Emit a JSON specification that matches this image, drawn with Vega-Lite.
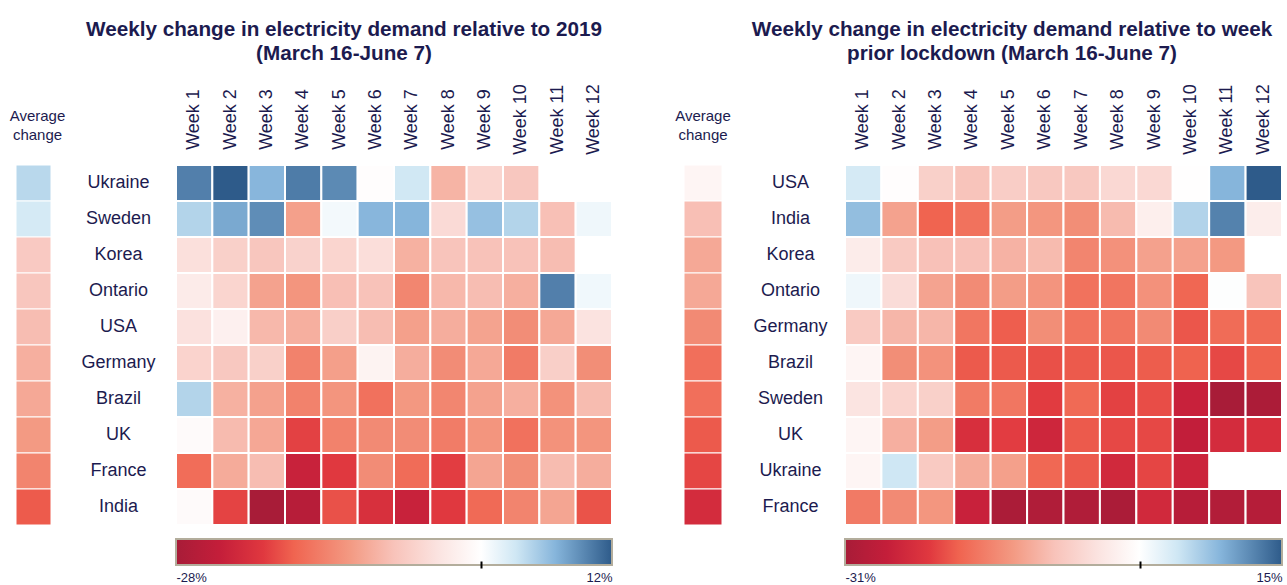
{
  "$schema": "https://vega.github.io/schema/vega-lite/v6.json",
  "autosize": {"type": "pad"},
  "padding": {"left": 9, "top": 18, "right": 2, "bottom": 2},
  "background": "white",
  "config": {
    "view": {"stroke": null},
    "font": "Liberation Sans",
    "title": {"color": "#1c1b4f", "font": "Liberation Sans"},
    "axis": {"labelFont": "Liberation Sans", "labelColor": "#1c1b4f"}
  },
  "datasets": {
    "L": [
      {"c":"Ukraine","w":"Week 1","v":9.9},{"c":"Ukraine","w":"Week 2","v":12},{"c":"Ukraine","w":"Week 3","v":6.7},{"c":"Ukraine","w":"Week 4","v":10.1},{"c":"Ukraine","w":"Week 5","v":9.3},{"c":"Ukraine","w":"Week 6","v":-0.3},{"c":"Ukraine","w":"Week 7","v":3.1},{"c":"Ukraine","w":"Week 8","v":-9.5},{"c":"Ukraine","w":"Week 9","v":-5.75},{"c":"Ukraine","w":"Week 10","v":-7.5},
      {"c":"Sweden","w":"Week 1","v":4.6},{"c":"Sweden","w":"Week 2","v":7.5},{"c":"Sweden","w":"Week 3","v":9.1},{"c":"Sweden","w":"Week 4","v":-11.4},{"c":"Sweden","w":"Week 5","v":0.8},{"c":"Sweden","w":"Week 6","v":6.7},{"c":"Sweden","w":"Week 7","v":6.8},{"c":"Sweden","w":"Week 8","v":-5.1},{"c":"Sweden","w":"Week 9","v":6.0},{"c":"Sweden","w":"Week 10","v":4.6},{"c":"Sweden","w":"Week 11","v":-8.3},{"c":"Sweden","w":"Week 12","v":1.1},
      {"c":"Korea","w":"Week 1","v":-4.4},{"c":"Korea","w":"Week 2","v":-6.4},{"c":"Korea","w":"Week 3","v":-7.6},{"c":"Korea","w":"Week 4","v":-6.1},{"c":"Korea","w":"Week 5","v":-5.75},{"c":"Korea","w":"Week 6","v":-4.6},{"c":"Korea","w":"Week 7","v":-9.8},{"c":"Korea","w":"Week 8","v":-7.9},{"c":"Korea","w":"Week 9","v":-8.1},{"c":"Korea","w":"Week 10","v":-8.1},{"c":"Korea","w":"Week 11","v":-8.6},
      {"c":"Ontario","w":"Week 1","v":-2.8},{"c":"Ontario","w":"Week 2","v":-5.75},{"c":"Ontario","w":"Week 3","v":-11.2},{"c":"Ontario","w":"Week 4","v":-12.5},{"c":"Ontario","w":"Week 5","v":-8.4},{"c":"Ontario","w":"Week 6","v":-8.1},{"c":"Ontario","w":"Week 7","v":-13.9},{"c":"Ontario","w":"Week 8","v":-9.1},{"c":"Ontario","w":"Week 9","v":-8.6},{"c":"Ontario","w":"Week 10","v":-10},{"c":"Ontario","w":"Week 11","v":9.9},{"c":"Ontario","w":"Week 12","v":1.0},
      {"c":"USA","w":"Week 1","v":-4.25},{"c":"USA","w":"Week 2","v":-2.1},{"c":"USA","w":"Week 3","v":-9.1},{"c":"USA","w":"Week 4","v":-10},{"c":"USA","w":"Week 5","v":-6.5},{"c":"USA","w":"Week 6","v":-8.6},{"c":"USA","w":"Week 7","v":-11.4},{"c":"USA","w":"Week 8","v":-10.1},{"c":"USA","w":"Week 9","v":-11.1},{"c":"USA","w":"Week 10","v":-13.25},{"c":"USA","w":"Week 11","v":-10.6},{"c":"USA","w":"Week 12","v":-4},
      {"c":"Germany","w":"Week 1","v":-6},{"c":"Germany","w":"Week 2","v":-7.4},{"c":"Germany","w":"Week 3","v":-6.4},{"c":"Germany","w":"Week 4","v":-14.3},{"c":"Germany","w":"Week 5","v":-11.5},{"c":"Germany","w":"Week 6","v":-1.7},{"c":"Germany","w":"Week 7","v":-10.1},{"c":"Germany","w":"Week 8","v":-13.35},{"c":"Germany","w":"Week 9","v":-10.6},{"c":"Germany","w":"Week 10","v":-15},{"c":"Germany","w":"Week 11","v":-6.5},{"c":"Germany","w":"Week 12","v":-13.2},
      {"c":"Brazil","w":"Week 1","v":4.6},{"c":"Brazil","w":"Week 2","v":-9.8},{"c":"Brazil","w":"Week 3","v":-11.3},{"c":"Brazil","w":"Week 4","v":-14.3},{"c":"Brazil","w":"Week 5","v":-12.5},{"c":"Brazil","w":"Week 6","v":-15.9},{"c":"Brazil","w":"Week 7","v":-12.2},{"c":"Brazil","w":"Week 8","v":-13.9},{"c":"Brazil","w":"Week 9","v":-11.2},{"c":"Brazil","w":"Week 10","v":-10},{"c":"Brazil","w":"Week 11","v":-12.8},{"c":"Brazil","w":"Week 12","v":-8.7},
      {"c":"UK","w":"Week 1","v":-0.7},{"c":"UK","w":"Week 2","v":-8.8},{"c":"UK","w":"Week 3","v":-10.7},{"c":"UK","w":"Week 4","v":-19.4},{"c":"UK","w":"Week 5","v":-14.3},{"c":"UK","w":"Week 6","v":-13.5},{"c":"UK","w":"Week 7","v":-13.35},{"c":"UK","w":"Week 8","v":-14.9},{"c":"UK","w":"Week 9","v":-12.5},{"c":"UK","w":"Week 10","v":-15.9},{"c":"UK","w":"Week 11","v":-12.8},{"c":"UK","w":"Week 12","v":-12.5},
      {"c":"France","w":"Week 1","v":-16.3},{"c":"France","w":"Week 2","v":-10.3},{"c":"France","w":"Week 3","v":-8.6},{"c":"France","w":"Week 4","v":-23.4},{"c":"France","w":"Week 5","v":-20},{"c":"France","w":"Week 6","v":-13.35},{"c":"France","w":"Week 7","v":-16.4},{"c":"France","w":"Week 8","v":-19.7},{"c":"France","w":"Week 9","v":-10.9},{"c":"France","w":"Week 10","v":-13.2},{"c":"France","w":"Week 11","v":-8.7},{"c":"France","w":"Week 12","v":-10.1},
      {"c":"India","w":"Week 1","v":-0.7},{"c":"India","w":"Week 2","v":-19.3},{"c":"India","w":"Week 3","v":-28},{"c":"India","w":"Week 4","v":-25.9},{"c":"India","w":"Week 5","v":-18.4},{"c":"India","w":"Week 6","v":-21.3},{"c":"India","w":"Week 7","v":-23.4},{"c":"India","w":"Week 8","v":-20},{"c":"India","w":"Week 9","v":-16.6},{"c":"India","w":"Week 10","v":-14.1},{"c":"India","w":"Week 11","v":-10.9},{"c":"India","w":"Week 12","v":-18.3}
    ],
    "LA": [
      {"c":"Ukraine","v":4.3},{"c":"Sweden","v":2.8},{"c":"Korea","v":-7.2},{"c":"Ontario","v":-7.6},{"c":"USA","v":-8.6},{"c":"Germany","v":-10},{"c":"Brazil","v":-10.6},{"c":"UK","v":-12},{"c":"France","v":-14.1},{"c":"India","v":-17.8}
    ],
    "LB": [{"lo": -28, "hi": 12}],
    "R": [
      {"c":"USA","w":"Week 1","v":3.5},{"c":"USA","w":"Week 2","v":-0.3},{"c":"USA","w":"Week 3","v":-7.1},{"c":"USA","w":"Week 4","v":-8.8},{"c":"USA","w":"Week 5","v":-7.5},{"c":"USA","w":"Week 6","v":-8.2},{"c":"USA","w":"Week 7","v":-8.2},{"c":"USA","w":"Week 8","v":-5.95},{"c":"USA","w":"Week 9","v":-5.95},{"c":"USA","w":"Week 10","v":-0.2},{"c":"USA","w":"Week 11","v":8.5},{"c":"USA","w":"Week 12","v":15},
      {"c":"India","w":"Week 1","v":7.7},{"c":"India","w":"Week 2","v":-12.4},{"c":"India","w":"Week 3","v":-19},{"c":"India","w":"Week 4","v":-17.5},{"c":"India","w":"Week 5","v":-13},{"c":"India","w":"Week 6","v":-13.7},{"c":"India","w":"Week 7","v":-14.6},{"c":"India","w":"Week 8","v":-9.8},{"c":"India","w":"Week 9","v":-2.5},{"c":"India","w":"Week 10","v":5.8},{"c":"India","w":"Week 11","v":12.2},{"c":"India","w":"Week 12","v":-2.8},
      {"c":"Korea","w":"Week 1","v":-3},{"c":"Korea","w":"Week 2","v":-7.9},{"c":"Korea","w":"Week 3","v":-9.1},{"c":"Korea","w":"Week 4","v":-9.1},{"c":"Korea","w":"Week 5","v":-10.7},{"c":"Korea","w":"Week 6","v":-9.8},{"c":"Korea","w":"Week 7","v":-15.5},{"c":"Korea","w":"Week 8","v":-14.25},{"c":"Korea","w":"Week 9","v":-12.5},{"c":"Korea","w":"Week 10","v":-12.5},{"c":"Korea","w":"Week 11","v":-13.4},
      {"c":"Ontario","w":"Week 1","v":1.3},{"c":"Ontario","w":"Week 2","v":-5.4},{"c":"Ontario","w":"Week 3","v":-12.3},{"c":"Ontario","w":"Week 4","v":-14.9},{"c":"Ontario","w":"Week 5","v":-13},{"c":"Ontario","w":"Week 6","v":-13.9},{"c":"Ontario","w":"Week 7","v":-17.5},{"c":"Ontario","w":"Week 8","v":-17.2},{"c":"Ontario","w":"Week 9","v":-14.25},{"c":"Ontario","w":"Week 10","v":-18.7},{"c":"Ontario","w":"Week 11","v":0.2},{"c":"Ontario","w":"Week 12","v":-8.8},
      {"c":"Germany","w":"Week 1","v":-7.9},{"c":"Germany","w":"Week 2","v":-10.3},{"c":"Germany","w":"Week 3","v":-10.3},{"c":"Germany","w":"Week 4","v":-17.1},{"c":"Germany","w":"Week 5","v":-19.4},{"c":"Germany","w":"Week 6","v":-14.6},{"c":"Germany","w":"Week 7","v":-17.4},{"c":"Germany","w":"Week 8","v":-17.2},{"c":"Germany","w":"Week 9","v":-15},{"c":"Germany","w":"Week 10","v":-20},{"c":"Germany","w":"Week 11","v":-18.2},{"c":"Germany","w":"Week 12","v":-18.4},
      {"c":"Brazil","w":"Week 1","v":-1.6},{"c":"Brazil","w":"Week 2","v":-14.6},{"c":"Brazil","w":"Week 3","v":-14.1},{"c":"Brazil","w":"Week 4","v":-19.7},{"c":"Brazil","w":"Week 5","v":-19.7},{"c":"Brazil","w":"Week 6","v":-20.4},{"c":"Brazil","w":"Week 7","v":-19.7},{"c":"Brazil","w":"Week 8","v":-20},{"c":"Brazil","w":"Week 9","v":-19.5},{"c":"Brazil","w":"Week 10","v":-19.1},{"c":"Brazil","w":"Week 11","v":-21},{"c":"Brazil","w":"Week 12","v":-19.1},
      {"c":"Sweden","w":"Week 1","v":-4.3},{"c":"Sweden","w":"Week 2","v":-6.5},{"c":"Sweden","w":"Week 3","v":-7.1},{"c":"Sweden","w":"Week 4","v":-16.6},{"c":"Sweden","w":"Week 5","v":-17.1},{"c":"Sweden","w":"Week 6","v":-21.9},{"c":"Sweden","w":"Week 7","v":-18.4},{"c":"Sweden","w":"Week 8","v":-21.5},{"c":"Sweden","w":"Week 9","v":-20.6},{"c":"Sweden","w":"Week 10","v":-26},{"c":"Sweden","w":"Week 11","v":-31},{"c":"Sweden","w":"Week 12","v":-30.4},
      {"c":"UK","w":"Week 1","v":-1.6},{"c":"UK","w":"Week 2","v":-11},{"c":"UK","w":"Week 3","v":-13},{"c":"UK","w":"Week 4","v":-23.6},{"c":"UK","w":"Week 5","v":-21.8},{"c":"UK","w":"Week 6","v":-25.2},{"c":"UK","w":"Week 7","v":-19.7},{"c":"UK","w":"Week 8","v":-21},{"c":"UK","w":"Week 9","v":-21},{"c":"UK","w":"Week 10","v":-26.9},{"c":"UK","w":"Week 11","v":-24.2},{"c":"UK","w":"Week 12","v":-23.6},
      {"c":"Ukraine","w":"Week 1","v":-1.6},{"c":"Ukraine","w":"Week 2","v":4},{"c":"Ukraine","w":"Week 3","v":-7.9},{"c":"Ukraine","w":"Week 4","v":-11.5},{"c":"Ukraine","w":"Week 5","v":-12.7},{"c":"Ukraine","w":"Week 6","v":-18.6},{"c":"Ukraine","w":"Week 7","v":-19.7},{"c":"Ukraine","w":"Week 8","v":-24.7},{"c":"Ukraine","w":"Week 9","v":-21.2},{"c":"Ukraine","w":"Week 10","v":-25.5},
      {"c":"France","w":"Week 1","v":-16.7},{"c":"France","w":"Week 2","v":-15},{"c":"France","w":"Week 3","v":-13.7},{"c":"France","w":"Week 4","v":-26},{"c":"France","w":"Week 5","v":-30.5},{"c":"France","w":"Week 6","v":-29.7},{"c":"France","w":"Week 7","v":-29.7},{"c":"France","w":"Week 8","v":-30.5},{"c":"France","w":"Week 9","v":-24.7},{"c":"France","w":"Week 10","v":-28.6},{"c":"France","w":"Week 11","v":-29.5},{"c":"France","w":"Week 12","v":-28.9}
    ],
    "RA": [
      {"c":"USA","v":-1.6},{"c":"India","v":-9.3},{"c":"Korea","v":-11.8},{"c":"Ontario","v":-11.8},{"c":"Germany","v":-15},{"c":"Brazil","v":-17.8},{"c":"Sweden","v":-17.8},{"c":"UK","v":-19.7},{"c":"Ukraine","v":-21.1},{"c":"France","v":-24.2}
    ],
    "RB": [{"lo": -31, "hi": 15}]
  },
  "columns": 2,
  "spacing": {"row": 14, "column": 72},
  "bounds": "flush",
  "align": "each",
  "resolve": {"scale": {"color": "independent", "x": "independent", "y": "independent"}},
  "concat": [
    {
      "width": 596,
      "height": 360,
      "title": {"text": ["Weekly change in electricity demand relative to 2019", "(March 16-June 7)"], "fontSize": 20.7, "fontWeight": "bold", "anchor": "middle", "frame": "group", "dx": 30, "offset": 19, "lineHeight": 24},
      "resolve": {"scale": {"x": "independent"}},
      "layer": [
        {
          "data": {"name": "LA"},
          "mark": {"type": "rect", "stroke": "white", "strokeWidth": 1},
          "encoding": {
            "x": {"datum": "Average change", "type": "nominal", "scale": {"domain": ["Average change"], "range": [0, 35], "paddingInner": 0, "paddingOuter": 0},
              "axis": {"orient": "top", "labelExpr": "split(datum.label, ' ')", "labelFontSize": 15, "labelLineHeight": 19, "labelPadding": 42, "labelOffset": 4, "labelAngle": 0, "labelAlign": "center", "labelBaseline": "bottom", "ticks": false, "domain": false, "title": null}},
            "y": {"field": "c", "type": "nominal", "scale": {"domain": ["Ukraine","Sweden","Korea","Ontario","USA","Germany","Brazil","UK","France","India"]},
              "axis": {"offset": -160, "labelAlign": "center", "labelBaseline": "middle", "labelPadding": 58, "ticks": false, "domain": false, "title": null, "labelFontSize": 18}},
            "color": {"field": "v", "type": "quantitative", "legend": null,
              "scale": {"type": "linear", "interpolate": "rgb", "domain": [-28,-24,-20,-17.2,-12,-8,-4,0,3.2,6.8,12], "range": ["#a81c38","#c41e3a","#e0383f","#f06450","#f39a83","#f8c3ba","#fbe3e0","#ffffff","#cfe7f4","#86b5db","#2e5b8a"]}}
          }
        },
        {
          "data": {"name": "L"},
          "mark": {"type": "rect", "stroke": "white", "strokeWidth": 2},
          "encoding": {
            "x": {"field": "w", "type": "ordinal", "scale": {"domain": ["Week 1","Week 2","Week 3","Week 4","Week 5","Week 6","Week 7","Week 8","Week 9","Week 10","Week 11","Week 12"], "range": [160, 596], "paddingInner": 0, "paddingOuter": 0},
              "axis": {"orient": "top", "labelAngle": -90, "labelAlign": "center", "labelBaseline": "middle", "labelPadding": 46, "ticks": false, "domain": false, "title": null, "labelFontSize": 18}},
            "y": {"field": "c", "type": "nominal", "scale": {"domain": ["Ukraine","Sweden","Korea","Ontario","USA","Germany","Brazil","UK","France","India"]},
              "axis": {"offset": -160, "labelAlign": "center", "labelBaseline": "middle", "labelPadding": 58, "ticks": false, "domain": false, "title": null, "labelFontSize": 18}},
            "color": {"field": "v", "type": "quantitative", "legend": null,
              "scale": {"type": "linear", "interpolate": "rgb", "domain": [-28,-24,-20,-17.2,-12,-8,-4,0,3.2,6.8,12], "range": ["#a81c38","#c41e3a","#e0383f","#f06450","#f39a83","#f8c3ba","#fbe3e0","#ffffff","#cfe7f4","#86b5db","#2e5b8a"]}}
          }
        }
      ]
    },
    {
      "width": 598,
      "height": 360,
      "title": {"text": ["Weekly change in electricity demand relative to week", "prior lockdown (March 16-June 7)"], "fontSize": 20.7, "fontWeight": "bold", "anchor": "middle", "frame": "group", "dx": 29, "offset": 19, "lineHeight": 24},
      "resolve": {"scale": {"x": "independent"}},
      "layer": [
        {
          "data": {"name": "RA"},
          "mark": {"type": "rect", "stroke": "white", "strokeWidth": 1},
          "encoding": {
            "x": {"datum": "Average change", "type": "nominal", "scale": {"domain": ["Average change"], "range": [0, 38], "paddingInner": 0, "paddingOuter": 0},
              "axis": {"orient": "top", "labelExpr": "split(datum.label, ' ')", "labelFontSize": 15, "labelLineHeight": 19, "labelPadding": 42, "labelOffset": 0, "labelAngle": 0, "labelAlign": "center", "labelBaseline": "bottom", "ticks": false, "domain": false, "title": null}},
            "y": {"field": "c", "type": "nominal", "scale": {"domain": ["USA","India","Korea","Ontario","Germany","Brazil","Sweden","UK","Ukraine","France"]},
              "axis": {"offset": -161, "labelAlign": "center", "labelBaseline": "middle", "labelPadding": 55, "ticks": false, "domain": false, "title": null, "labelFontSize": 18}},
            "color": {"field": "v", "type": "quantitative", "legend": null,
              "scale": {"type": "linear", "interpolate": "rgb", "domain": [-31,-26.6,-22.1,-19,-13.3,-8.9,-4.4,0,4,8.5,15], "range": ["#a81c38","#c41e3a","#e0383f","#f06450","#f39a83","#f8c3ba","#fbe3e0","#ffffff","#cfe7f4","#86b5db","#2e5b8a"]}}
          }
        },
        {
          "data": {"name": "R"},
          "mark": {"type": "rect", "stroke": "white", "strokeWidth": 2},
          "encoding": {
            "x": {"field": "w", "type": "ordinal", "scale": {"domain": ["Week 1","Week 2","Week 3","Week 4","Week 5","Week 6","Week 7","Week 8","Week 9","Week 10","Week 11","Week 12"], "range": [161, 598], "paddingInner": 0, "paddingOuter": 0},
              "axis": {"orient": "top", "labelAngle": -90, "labelAlign": "center", "labelBaseline": "middle", "labelPadding": 46, "ticks": false, "domain": false, "title": null, "labelFontSize": 18}},
            "y": {"field": "c", "type": "nominal", "scale": {"domain": ["USA","India","Korea","Ontario","Germany","Brazil","Sweden","UK","Ukraine","France"]},
              "axis": {"offset": -161, "labelAlign": "center", "labelBaseline": "middle", "labelPadding": 55, "ticks": false, "domain": false, "title": null, "labelFontSize": 18}},
            "color": {"field": "v", "type": "quantitative", "legend": null,
              "scale": {"type": "linear", "interpolate": "rgb", "domain": [-31,-26.6,-22.1,-19,-13.3,-8.9,-4.4,0,4,8.5,15], "range": ["#a81c38","#c41e3a","#e0383f","#f06450","#f39a83","#f8c3ba","#fbe3e0","#ffffff","#cfe7f4","#86b5db","#2e5b8a"]}}
          }
        }
      ]
    },
    {
      "width": 596,
      "height": 26,
      "data": {"name": "LB"},
      "mark": {"type": "rect", "stroke": "#b3ad9c", "strokeWidth": 2,
        "fill": {"gradient": "linear", "x1": 0, "y1": 0, "x2": 1, "y2": 0, "stops": [
          {"offset": 0, "color": "#a81c38"}, {"offset": 0.1, "color": "#c41e3a"}, {"offset": 0.2, "color": "#e0383f"}, {"offset": 0.27, "color": "#f06450"}, {"offset": 0.4, "color": "#f39a83"}, {"offset": 0.5, "color": "#f8c3ba"}, {"offset": 0.6, "color": "#fbe3e0"}, {"offset": 0.7, "color": "#ffffff"}, {"offset": 0.78, "color": "#cfe7f4"}, {"offset": 0.87, "color": "#86b5db"}, {"offset": 1, "color": "#2e5b8a"}]}},
      "encoding": {
        "x": {"field": "lo", "type": "quantitative", "scale": {"domain": [-28, 12], "range": [160, 596], "nice": false, "zero": false},
          "axis": {"values": [-28, 0, 12], "labelExpr": "datum.value === 0 ? '' : datum.value + '%'", "domain": false, "grid": false, "ticks": true, "tickSize": 7, "tickWidth": 2,
            "tickColor": {"condition": {"test": "datum.value === 0", "value": "#000000"}, "value": "transparent"},
            "offset": -4, "labelFlush": true, "labelFontSize": 13, "labelPadding": 3, "title": null, "zindex": 1}},
        "x2": {"field": "hi"}
      }
    },
    {
      "width": 598,
      "height": 26,
      "data": {"name": "RB"},
      "mark": {"type": "rect", "stroke": "#b3ad9c", "strokeWidth": 2,
        "fill": {"gradient": "linear", "x1": 0, "y1": 0, "x2": 1, "y2": 0, "stops": [
          {"offset": 0, "color": "#a81c38"}, {"offset": 0.0957, "color": "#c41e3a"}, {"offset": 0.193, "color": "#e0383f"}, {"offset": 0.261, "color": "#f06450"}, {"offset": 0.385, "color": "#f39a83"}, {"offset": 0.48, "color": "#f8c3ba"}, {"offset": 0.578, "color": "#fbe3e0"}, {"offset": 0.674, "color": "#ffffff"}, {"offset": 0.761, "color": "#cfe7f4"}, {"offset": 0.859, "color": "#86b5db"}, {"offset": 1, "color": "#2e5b8a"}]}},
      "encoding": {
        "x": {"field": "lo", "type": "quantitative", "scale": {"domain": [-31, 15], "range": [161, 598], "nice": false, "zero": false},
          "axis": {"values": [-31, 0, 15], "labelExpr": "datum.value === 0 ? '' : datum.value + '%'", "domain": false, "grid": false, "ticks": true, "tickSize": 7, "tickWidth": 2,
            "tickColor": {"condition": {"test": "datum.value === 0", "value": "#000000"}, "value": "transparent"},
            "offset": -4, "labelFlush": true, "labelFontSize": 13, "labelPadding": 3, "title": null, "zindex": 1}},
        "x2": {"field": "hi"}
      }
    }
  ]
}
